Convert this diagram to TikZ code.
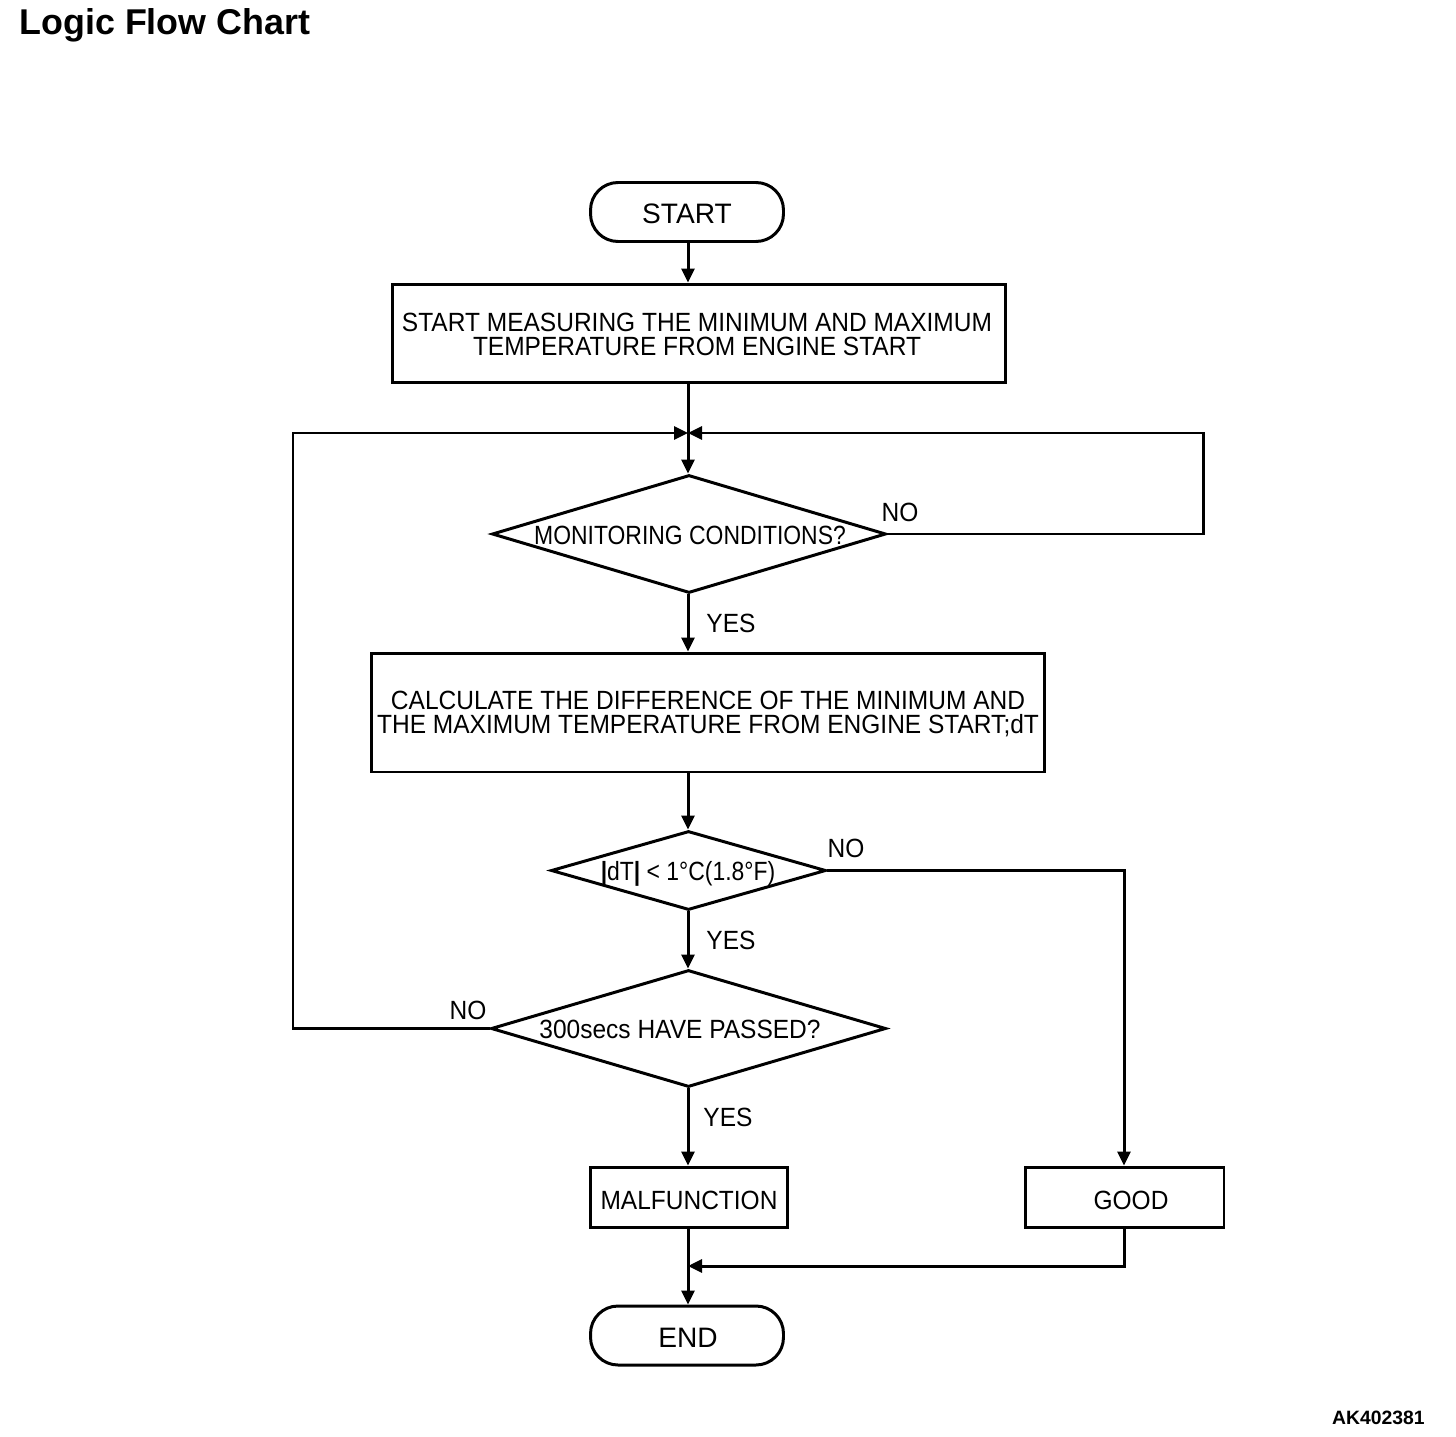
\documentclass[tikz,border=0pt]{standalone}
\usepackage{fontspec}
\setmainfont{Liberation Sans}
\newfontfamily\nf[FakeStretch=0.93]{Liberation Sans}
\newfontfamily\cf[FakeStretch=0.87]{Liberation Sans}
\usetikzlibrary{arrows.meta,shapes.geometric}
\begin{document}
\begin{tikzpicture}[x=0.02cm,y=-0.02cm, line width=1.7pt,
  box/.style={draw, rectangle, inner sep=0pt, font=\nf\fontsize{15}{14}\selectfont, align=center},
  term/.style={draw, rectangle, inner sep=0pt, font=\fontsize{16}{16}\selectfont, rounded corners=0.55cm, minimum width=3.86cm, minimum height=1.18cm},
  dia/.style={draw, diamond, inner sep=0pt},
  txt/.style={font=\nf\fontsize{15}{14}\selectfont, align=center, inner sep=0pt},
  ctxt/.style={font=\cf\fontsize{15}{14}\selectfont, align=center, inner sep=0pt},
  arr/.style={-{Triangle[length=0.28cm,width=0.26cm]}},
]
\useasboundingbox (0,0) rectangle (1456,1436);
\node[font=\bfseries\fontsize{20.4}{22}\selectfont, anchor=base west, inner sep=0pt] (title) at (18,35) {Logic Flow Chart};
\node[font=\bfseries\fontsize{11}{12}\selectfont, anchor=base east, inner sep=0pt] (code) at (1426,1424) {AK402381};

\coordinate (m) at (688,433);
\coordinate (rx) at (1203,433);
\coordinate (lx) at (293,433);
\coordinate (gx) at (1124,870);
\coordinate (j) at (688,1266);

\node[term] (start) at (687,212) {};
\node[inner sep=0pt, font=\fontsize{16}{16}\selectfont, anchor=base] (ts) at (687,223) {START};
\node[box, minimum width=12.28cm, minimum height=1.98cm] (b1) at (699,333.5) {};
\node[txt] (tb1) at (697,334.5) {START MEASURING THE MINIMUM AND MAXIMUM\\TEMPERATURE FROM ENGINE START};
\node[dia, minimum width=7.88cm, minimum height=2.36cm] (d1) at (689,534) {};
\node[ctxt, anchor=base] (t1) at (690,544) {MONITORING CONDITIONS?};
\node[box, minimum width=13.48cm, minimum height=2.38cm] (b2) at (708,712.5) {};
\node[txt] (tb2) at (708,714) {CALCULATE THE DIFFERENCE OF THE MINIMUM AND\\THE MAXIMUM TEMPERATURE FROM ENGINE START;dT};
\node[dia, minimum width=5.5cm, minimum height=1.58cm] (d2) at (688.5,870.5) {};
\node[ctxt, anchor=base] (t2) at (688,880) {\textbf{|}dT\textbf{|} < 1°C(1.8°F)};
\node[dia, minimum width=7.9cm, minimum height=2.34cm] (d3) at (688.5,1028.5) {};
\node[txt, anchor=base] (t3) at (680,1038) {300secs HAVE PASSED?};
\node[box, minimum width=3.96cm, minimum height=1.2cm] (mal) at (689,1197) {};
\node[txt, anchor=base] (tm) at (689,1209) {MALFUNCTION};
\node[box, minimum width=3.98cm, minimum height=1.2cm] (good) at (1124.5,1197) {};
\node[txt, anchor=base] (tg) at (1131,1209) {GOOD};
\node[term] (endn) at (687,1335.5) {};
\node[inner sep=0pt, font=\fontsize{16}{16}\selectfont, anchor=base] (te) at (688,1347) {END};

\node[txt, anchor=base] (no1) at (900,521) {NO};
\node[txt, anchor=base] (yes1) at (731,632) {YES};
\node[txt, anchor=base] (no2) at (846,857) {NO};
\node[txt, anchor=base] (yes2) at (731,949) {YES};
\node[txt, anchor=base] (no3) at (468,1019) {NO};
\node[txt, anchor=base] (yes3) at (728,1126) {YES};

\draw[arr] (start.south -| m) -- (b1.north -| m);
\draw (b1.south -| m) -- (m);
\draw[arr] (m) -- (d1.north -| m);
\draw[arr] (d1.east) -- (d1.east -| rx) -- (rx) -- (m);
\draw[arr] (d1.south -| m) -- (b2.north -| m);
\draw[arr] (b2.south -| m) -- (d2.north -| m);
\draw[arr] (d2.east) -- (d2.east -| gx) -- (good.north -| gx);
\draw[arr] (d2.south -| m) -- (d3.north -| m);
\draw[arr] (d3.west) -- (d3.west -| lx) -- (lx) -- (m);
\draw[arr] (d3.south -| m) -- (mal.north -| m);
\draw[arr] (mal.south -| j) -- (endn.north -| j);
\draw[arr] (good.south -| gx) -- (gx |- j) -- (j);
\end{tikzpicture}
\end{document}
